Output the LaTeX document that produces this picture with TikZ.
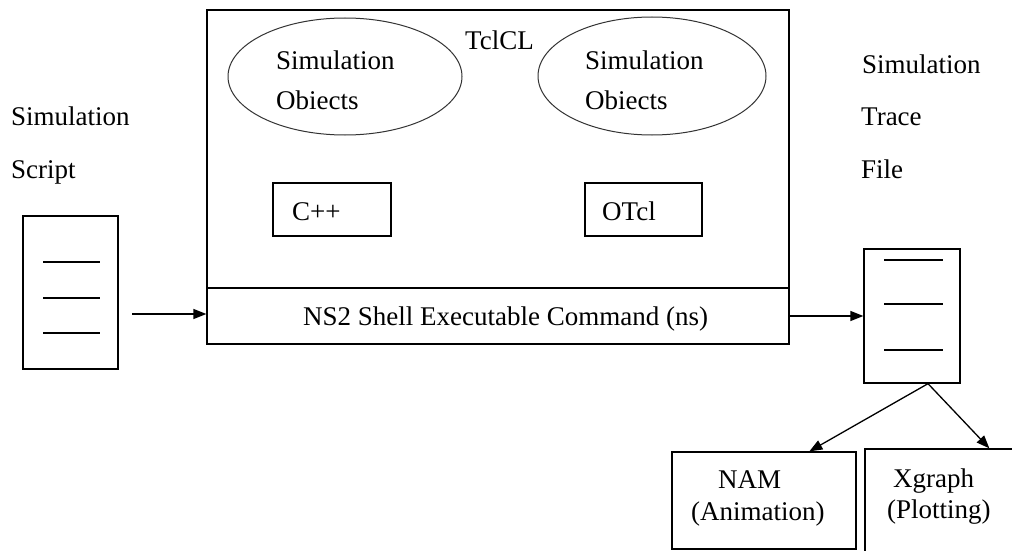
\documentclass[tikz,border=0pt]{standalone}
\usepackage{fontspec}
\setmainfont{Liberation Serif}
\usetikzlibrary{shapes.geometric,arrows.meta}
\begin{document}
\begin{tikzpicture}[x=1pt,y=-1pt,
  box/.style={draw,rectangle,line width=1.3pt,inner sep=0pt},
  oval/.style={draw=black!80,ellipse,line width=1pt,inner sep=0pt},
  txt/.style={anchor=base west,inner sep=0pt,font=\fontsize{27pt}{32pt}\selectfont},
  rule/.style={line width=1.2pt},
  arr/.style={line width=1.3pt,-{Triangle[length=13pt,width=10pt]}}]
\clip (0,0) rectangle (1012,551);
\fill[white] (0,0) rectangle (1012,551);

% input script document
\node[box,minimum width=95pt,minimum height=153pt] (script) at (70.5,292.5) {};
\draw[rule] (43,262) -- (100,262) (43,298) -- (100,298) (43,333) -- (100,333);
\node[txt] (scrlabA) at (11,125) {Simulation};
\node[txt] (scrlabB) at (11,178) {Script};

% simulator core and its shell command band
\node[box,minimum width=582pt,minimum height=278pt] (core) at (498,149) {};
\node[box,minimum width=582pt,minimum height=56pt] (ns) at (498,316) {};
\node[txt] (nslab) at (303,325) {NS2 Shell Executable Command (ns)};
\node[txt] (tclcl) at (465,50) {TclCL};

\node[oval,minimum width=234pt,minimum height=117pt] (objA) at (345,76.5) {};
\node[oval,minimum width=228pt,minimum height=118pt] (objB) at (652,76) {};
\node[txt] (objAa) at (276,70) {Simulation};
\node[txt] (objAb) at (276,110) {Obiects};
\node[txt] (objBa) at (585,70) {Simulation};
\node[txt] (objBb) at (585,110) {Obiects};

\node[box,minimum width=118pt,minimum height=53pt] (cpp) at (332,209.5) {};
\node[txt] (cpplab) at (292,220) {C++};
\node[box,minimum width=117pt,minimum height=53pt] (otcl) at (643.5,209.5) {};
\node[txt] (otcllab) at (602,220) {OTcl};

% output trace document
\node[box,minimum width=96pt,minimum height=134pt] (trace) at (912,316) {};
\draw[rule] (884,260) -- (943,260) (884,304) -- (943,304) (884,350) -- (943,350);
\node[txt] (trlabA) at (862,74) {Simulation};
\node[txt] (trlabB) at (861,125) {Trace};
\node[txt] (trlabC) at (861,178) {File};

% post-processing tools
\node[box,minimum width=184pt,minimum height=97pt] (nam) at (764,500.5) {};
\node[txt] (namA) at (718,488) {NAM};
\node[txt] (namB) at (691,520) {(Animation)};
\node[box,minimum width=155pt,minimum height=111pt] (xg) at (942.5,504.5) {};
\node[txt] (xgA) at (893,487) {Xgraph};
\node[txt] (xgB) at (887,518) {(Plotting)};

% connectors
\coordinate (s0) at (132,314);
\draw[arr] (s0) -- (ns.west |- s0);
\draw[arr] (ns.east) -- (trace.west);
\coordinate (apex) at ([xshift=16pt]trace.south);
\draw[arr] (apex) -- ([xshift=138pt]nam.north west);
\draw[arr] (apex) -- ([xshift=125pt]xg.north west);
\end{tikzpicture}
\end{document}
